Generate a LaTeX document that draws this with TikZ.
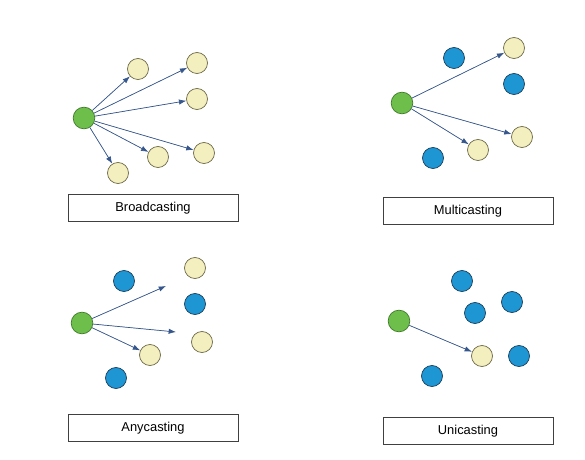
\documentclass[tikz,border=0pt]{standalone}
\usepackage{fontspec}
\setmainfont{Liberation Sans}
\usepackage{tikz}
\usetikzlibrary{arrows.meta,positioning}
\definecolor{srcgreen}{HTML}{6DBE4B}
\definecolor{srcedge}{HTML}{3F7A2A}
\definecolor{dstyellow}{HTML}{F3EFBF}
\definecolor{dstedge}{HTML}{6E6A48}
\definecolor{idleblue}{HTML}{1E96D4}
\definecolor{idleedge}{HTML}{1B3F5A}
\definecolor{arrblue}{HTML}{36578C}
\begin{document}
\begin{tikzpicture}[x=0.03cm,y=-0.03cm,
source/.style={circle,draw=srcedge,fill=srcgreen,line width=0.6pt,minimum size=0.65cm,inner sep=0pt},
target/.style={circle,draw=dstedge,fill=dstyellow,line width=0.6pt,minimum size=0.63cm,inner sep=0pt},
idle/.style={circle,draw=idleedge,fill=idleblue,line width=0.6pt,minimum size=0.63cm,inner sep=0pt},
caption/.style={draw=black!75,line width=0.6pt,minimum width=5.1cm,minimum height=0.81cm,font=\fontsize{11}{13}\selectfont},
arr/.style={-{Latex[length=2.2mm,width=1.6mm]},draw=arrblue,fill=arrblue,line width=0.6pt}]
\useasboundingbox (0,0) rectangle (585,460);
% broadcasting
\node[source](bsrc) at (84,118){};
\node[target](b1) at (138,69){};
\node[target](b2) at (197,63){};
\node[target](b3) at (197,99){};
\node[target](b4) at (204,153){};
\node[target](b5) at (158,157){};
\node[target](b6) at (118,173){};
\node[caption](bcap) at (153,208){Broadcasting};
\foreach \t in {b1,b2,b3,b4,b5,b6}
  \draw[arr](bsrc)--(\t);
% multicasting
\node[source](msrc) at (402,103){};
\node[idle](m1) at (454,58){};
\node[idle](m2) at (514,84){};
\node[idle](m3) at (433,158){};
\node[target](m4) at (514,48){};
\node[target](m5) at (522,137){};
\node[target](m6) at (478,150){};
\node[caption](mcap) at (468,211){Multicasting};
\foreach \t in {m4,m5,m6}
  \draw[arr](msrc)--(\t);
% anycasting
\node[source](asrc) at (82,323){};
\node[idle](a1) at (124,281){};
\node[idle](a2) at (195,304){};
\node[idle](a3) at (116,378){};
\node[target](a4) at (195,268){};
\node[target](a5) at (202,342){};
\node[target](a6) at (150,355){};
\coordinate(aend1) at (166,286);
\coordinate(aend2) at (176,332);
\node[caption](acap) at (153,428){Anycasting};
\draw[arr](asrc)--(aend1);
\draw[arr](asrc)--(aend2);
\draw[arr](asrc)--(a6);
% unicasting
\node[source](usrc) at (399,321){};
\node[idle](u1) at (462,281){};
\node[idle](u2) at (512,302){};
\node[idle](u3) at (475,313){};
\node[idle](u4) at (519,356){};
\node[idle](u5) at (432,376){};
\node[target](u6) at (482,356){};
\node[caption](ucap) at (468,431){Unicasting};
\draw[arr](usrc)--(u6);
\end{tikzpicture}
\end{document}
